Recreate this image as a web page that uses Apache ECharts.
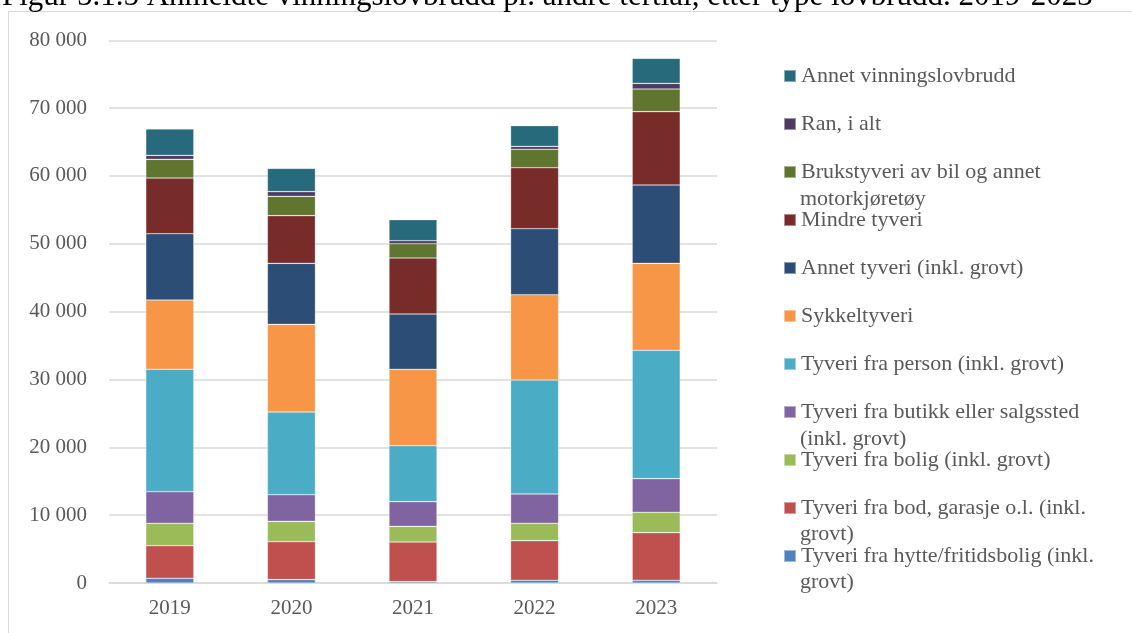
<!DOCTYPE html>
<html>
<head>
<meta charset="utf-8">
<script src="https://cdn.jsdelivr.net/npm/echarts@6/dist/echarts.min.js"></script>
<style>html,body{margin:0;padding:0;background:#fff;}#c{width:1132px;height:633px;}</style>
</head>
<body>
<div id="c"></div>
<script>
const years = ['2019', '2020', '2021', '2022', '2023'];
const hytte = [700, 500, 200, 400, 400];
const bod = [4800, 5590, 5840, 5840, 7020];
const bolig = [3300, 3000, 2310, 2560, 3000];
const butikk = [4660, 3930, 3640, 4320, 4960];
const person = [18040, 12190, 8250, 16800, 18920];
const sykkel = [10220, 12920, 11260, 12580, 12820];
const annetTyveri = [9770, 8990, 8150, 9730, 11550];
const mindre = [8210, 7030, 8260, 8990, 10810];
const bruk = [2750, 2850, 2110, 2710, 3340];
const ran = [590, 690, 440, 440, 830];
const annetVinning = [3880, 3430, 3100, 3040, 3690];

const seriesNames = [
  'Tyveri fra hytte/fritidsbolig (inkl. grovt)',
  'Tyveri fra bod, garasje o.l. (inkl. grovt)',
  'Tyveri fra bolig (inkl. grovt)',
  'Tyveri fra butikk eller salgssted (inkl. grovt)',
  'Tyveri fra person (inkl. grovt)',
  'Sykkeltyveri',
  'Annet tyveri (inkl. grovt)',
  'Mindre tyveri',
  'Brukstyveri av bil og annet motorkjøretøy',
  'Ran, i alt',
  'Annet vinningslovbrudd'
];
const firstLines = {
  'Tyveri fra hytte/fritidsbolig (inkl. grovt)': 'Tyveri fra hytte/fritidsbolig (inkl.',
  'Tyveri fra bod, garasje o.l. (inkl. grovt)': 'Tyveri fra bod, garasje o.l. (inkl.',
  'Tyveri fra butikk eller salgssted (inkl. grovt)': 'Tyveri fra butikk eller salgssted',
  'Brukstyveri av bil og annet motorkjøretøy': 'Brukstyveri av bil og annet'
};
const seriesData = [hytte, bod, bolig, butikk, person, sykkel, annetTyveri, mindre, bruk, ran, annetVinning];
const colors = ['#4F81BD', '#C0504D', '#9BBB59', '#8064A2', '#4BACC6', '#F79646', '#2C4D75', '#772C2A', '#5F7530', '#4D3B62', '#276A7C'];

const FONT = '"Liberation Serif", "DejaVu Serif", serif';
const GRAY = '#595959';

const chart = echarts.init(document.getElementById('c'), null, {renderer: 'canvas'});

const contLine = (txt, y) => ({
  type: 'text', x: 800, y: y,
  style: {text: txt, fill: GRAY, font: '22px ' + FONT, verticalAlign: 'middle', align: 'left'}
});

chart.setOption({
  animation: false,
  color: colors,
  textStyle: {fontFamily: FONT},
  graphic: [
    {type: 'rect', shape: {x: 8.5, y: 11.5, width: 1140, height: 640}, style: {fill: 'none', stroke: '#D9D9D9', lineWidth: 1}, silent: true},
    {type: 'text', left: 2, top: -19, style: {text: 'Figur 5.1.5 Anmeldte vinningslovbrudd pr. andre tertial, etter type lovbrudd. 2019-2023', fill: '#000', font: '31px ' + FONT}},
    contLine('motorkjøretøy', 199),
    contLine('(inkl. grovt)', 439),
    contLine('grovt)', 534),
    contLine('grovt)', 582)
  ],
  grid: {left: 109, right: 415, top: 40.3, bottom: 50, containLabel: false},
  legend: {
    orient: 'vertical',
    left: 783,
    top: 65,
    padding: 0,
    itemWidth: 12,
    itemHeight: 12,
    itemGap: 26,
    icon: 'rect',
    data: seriesNames.slice().reverse(),
    formatter: n => firstLines[n] || n,
    textStyle: {color: GRAY, fontSize: 22, fontFamily: FONT, lineHeight: 22}
  },
  xAxis: {
    type: 'category',
    data: years,
    axisLine: {show: true, lineStyle: {color: '#D9D9D9', width: 1.5}},
    axisTick: {show: false},
    axisLabel: {color: GRAY, fontSize: 21, fontFamily: FONT, margin: 15}
  },
  yAxis: {
    type: 'value',
    min: 0,
    max: 80000,
    interval: 10000,
    axisLine: {show: false},
    axisTick: {show: false},
    splitLine: {lineStyle: {color: '#D9D9D9', width: 1.5}},
    axisLabel: {
      color: GRAY, fontSize: 21, fontFamily: FONT, margin: 22,
      formatter: v => String(v).replace(/\B(?=(\d{3})+(?!\d))/g, ' ')
    }
  },
  series: seriesNames.map((n, i) => ({
    name: n,
    type: 'bar',
    stack: 'total',
    data: seriesData[i],
    barWidth: 48,
    itemStyle: {color: colors[i], borderColor: 'rgba(255,255,255,0.45)', borderWidth: 0.6}
  }))
});
</script>
</body>
</html>
